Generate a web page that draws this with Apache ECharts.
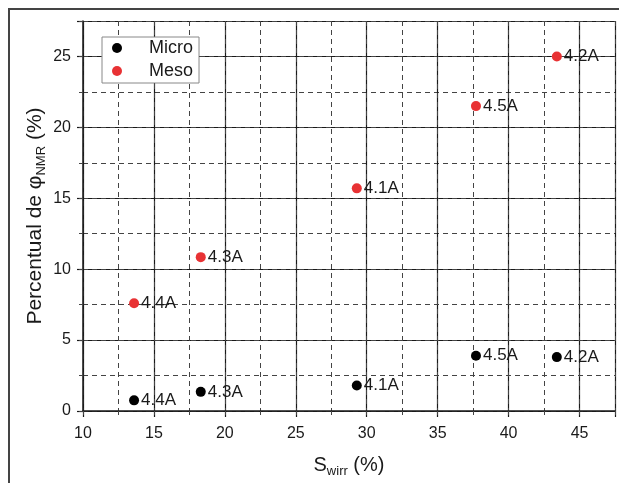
<!DOCTYPE html>
<html>
<head>
<meta charset="utf-8">
<script src="https://cdn.jsdelivr.net/npm/echarts@6/dist/echarts.min.js"></script>
<style>
  html, body { margin: 0; padding: 0; background: #fff; }
  #chart { width: 619px; height: 483px; }
</style>
</head>
<body>
<div id="chart"></div>
<script>
// sample names, same order for both series
const sampleNames = ['4.4A', '4.3A', '4.1A', '4.5A', '4.2A'];
const swirr = [13.6, 18.3, 29.3, 37.7, 43.4];
const microVals = [0.75, 1.35, 1.8, 3.9, 3.8];
const mesoVals = [7.6, 10.85, 15.7, 21.5, 25.0];

const xTicks = [10, 15, 20, 25, 30, 35, 40, 45];
const yTicks = [0, 5, 10, 15, 20, 25];

const toPoints = (vals) => vals.map((v, i) => [swirr[i], v, sampleNames[i]]);

const myChart = echarts.init(document.getElementById('chart'));

const font = 'Liberation Sans, Arial, sans-serif';
const ink = '#1a1a1a';

const pointLabel = {
  show: true,
  position: 'right',
  distance: 2,
  fontFamily: font,
  fontSize: 17,
  color: ink,
  formatter: p => p.value[2]
};

const option = {
  animation: false,
  backgroundColor: '#fff',
  grid: { left: 83, top: 21, width: 532, height: 391, show: false },
  graphic: [
    {
      type: 'rect',
      shape: { x: 9, y: 9, width: 700, height: 600 },
      style: { fill: 'none', stroke: '#444', lineWidth: 2 },
      z: 100
    }
  ],
  legend: {
    left: 102, top: 37,
    orient: 'vertical',
    backgroundColor: '#fff',
    borderColor: '#888',
    borderWidth: 1,
    padding: [2, 6, 3, 10],
    itemGap: 5,
    itemWidth: 10,
    itemHeight: 10,
    icon: 'circle',
    textStyle: { fontFamily: font, fontSize: 18, color: ink, lineHeight: 18, padding: [0, 0, 0, 22] },
    data: ['Micro', 'Meso']
  },
  xAxis: [
    {
      type: 'value', min: 10, max: 47.5, interval: 5,
      name: 'S{sub|wirr} (%)',
      nameLocation: 'middle', nameGap: 42,
      nameTextStyle: {
        fontFamily: font, fontSize: 20, color: ink,
        rich: { sub: { fontFamily: font, fontSize: 13, color: ink, padding: [12, 0, 0, 0] } }
      },
      axisLine: { show: true, lineStyle: { color: ink, width: 1.5 } },
      axisTick: { show: true, length: 6, lineStyle: { color: ink, width: 1.2 } },
      axisLabel: {
        fontFamily: font, fontSize: 16, color: ink, margin: 15,
        formatter: v => xTicks.includes(v) ? String(v) : ''
      },
      splitLine: { show: true, lineStyle: { color: ink, width: 1.2 } }
    },
    {
      type: 'value', min: 10, max: 47.5, interval: 2.5, position: 'bottom',
      axisLine: { show: false },
      axisTick: { show: true, length: 4, lineStyle: { color: '#444', width: 1 } },
      axisLabel: { show: false },
      splitLine: { show: true, lineStyle: { color: '#444', width: 1, type: [5, 4] } }
    }
  ],
  yAxis: [
    {
      type: 'value', min: 0, max: 27.5, interval: 5,
      name: 'Percentual de φ{sub|NMR} (%)',
      nameLocation: 'middle', nameGap: 35,
      nameMoveOverlap: false,
      nameTextStyle: {
        fontFamily: font, fontSize: 21, color: ink,
        rich: { sub: { fontFamily: font, fontSize: 13, color: ink, padding: [12, 0, 0, 0] } }
      },
      axisLine: { show: true, lineStyle: { color: ink, width: 1.5 } },
      axisTick: { show: true, length: 6, lineStyle: { color: ink, width: 1.2 } },
      axisLabel: {
        fontFamily: font, fontSize: 16, color: ink, margin: 12,
        formatter: v => yTicks.includes(v) ? String(v) : ''
      },
      splitLine: { show: true, lineStyle: { color: ink, width: 1.2 } }
    },
    {
      type: 'value', min: 0, max: 27.5, interval: 2.5, position: 'left',
      axisLine: { show: false },
      axisTick: { show: true, length: 4, lineStyle: { color: '#444', width: 1 } },
      axisLabel: { show: false },
      splitLine: { show: true, lineStyle: { color: '#444', width: 1, type: [5, 4] } }
    }
  ],
  series: [
    {
      name: 'Micro', type: 'scatter',
      symbol: 'circle', symbolSize: 10,
      itemStyle: { color: '#000', opacity: 1 },
      label: pointLabel,
      data: toPoints(microVals),
      z: 10
    },
    {
      name: 'Meso', type: 'scatter',
      symbol: 'circle', symbolSize: 10,
      itemStyle: { color: '#e83234', opacity: 1 },
      label: pointLabel,
      data: toPoints(mesoVals),
      z: 10
    }
  ]
};

myChart.setOption(option);
</script>
</body>
</html>
